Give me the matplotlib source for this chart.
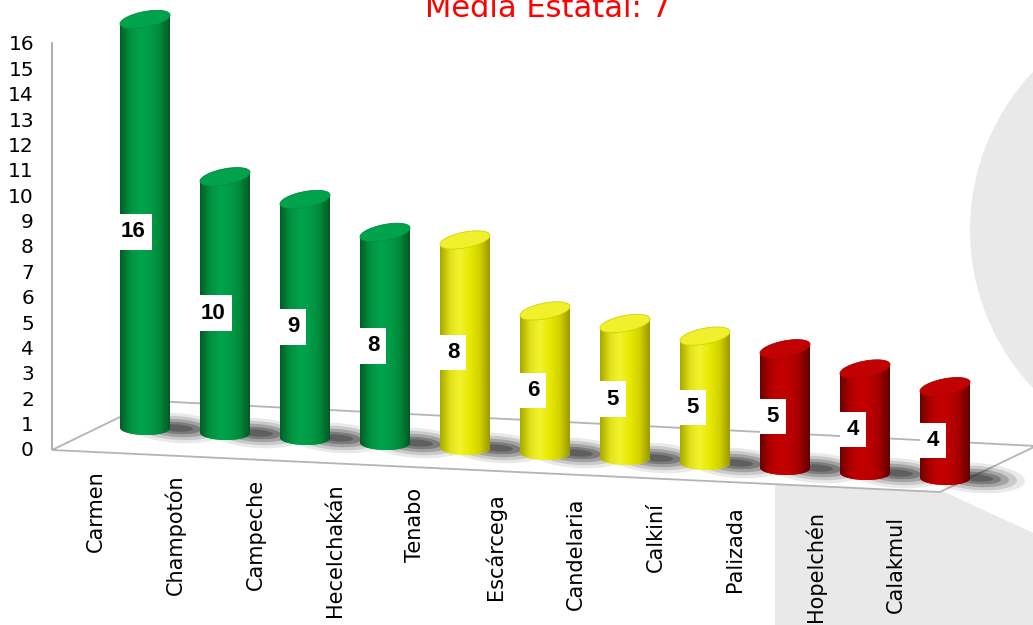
import numpy as np
import matplotlib
matplotlib.use("Agg")
import matplotlib.pyplot as plt
from matplotlib.patches import Polygon, Rectangle, Circle, Ellipse
from matplotlib.transforms import Affine2D
from matplotlib.colors import LinearSegmentedColormap

# datos
municipios = ["Carmen", "Champotón", "Campeche", "Hecelchakán", "Tenabo", "Escárcega",
              "Candelaria", "Calkiní", "Palizada", "Hopelchén", "Calakmul"]
valores = [16.1, 10.1, 9.4, 8.3, 8.2, 5.6, 5.3, 5.0, 4.7, 4.1, 3.6]
grupos = ["alto"] * 4 + ["medio"] * 4 + ["bajo"] * 3
media_estatal = 7
yticks = list(range(0, 17))

W, H = 1033, 625
PX, PY = 80.0, 25.375          # pixeles por unidad (x = municipio, y = valor)

fig = plt.figure(figsize=(W / 100, H / 100), dpi=100)

# fondo decorativo (coordenadas en pixeles)
bg = fig.add_axes([0, 0, 1, 1], zorder=0)
bg.set_xlim(0, W)
bg.set_ylim(H, 0)
bg.axis("off")
bg.add_patch(Circle((1200, 230), 230, color="#e9e9e9", lw=0))
bg.add_patch(Rectangle((775, 470), 300, 200, color="#e9e9e9", lw=0))
bg.add_patch(Polygon([(940, 490), (1040, 452), (1040, 536)], closed=True, color="white", lw=0))

# ejes principales
ax = fig.add_axes([0, 0, 1, 1], zorder=1)
ax.patch.set_alpha(0)
xmin = -145 / PX
ymin = -(H - 449) / PY
ax.set_xlim(xmin, xmin + W / PX)
ax.set_ylim(ymin, ymin + H / PY)

# perspectiva: la base baja hacia la derecha
k = 5.0 / PY
c0 = (449 - 428) / PY
persp = Affine2D().from_values(1, -k, 0, 1, 0, c0) + ax.transData

# piso
def px2d(x, y):
    return (x / PX + xmin, (449 - y) / PY)

piso = [px2d(52, 450), px2d(940, 492), px2d(1036, 446), px2d(153, 401)]
ax.add_patch(Polygon(piso, closed=True, facecolor="white", edgecolor="#b4b4b4", lw=1.3, zorder=1))

colores = {
    "alto": (["#005f28", "#00913f", "#00a34c", "#009c46", "#008a3c", "#005a25"], "#00a24b"),
    "medio": (["#a8a800", "#e2e21c", "#f2f22e", "#e8e800", "#d2d200", "#9a9a00"], "#f0f02c"),
    "bajo": (["#6a0000", "#b00000", "#c40000", "#bc0000", "#a40000", "#620000"], "#c20202"),
}

R = 25 / PX
t_bot = np.linspace(np.pi, 2 * np.pi, 40)
t_top = np.linspace(2 * np.pi, np.pi, 40)
t_all = np.linspace(0, 2 * np.pi, 80)


def anillo(cx, cy, s, b, t):
    return cx + R * np.cos(t), cy + (s * 25 * np.cos(t) + b * np.sin(t)) / PY


for i, (v, g) in enumerate(zip(valores, grupos)):
    # sombra
    for w, h, a in [(96, 30, 0.10), (80, 24, 0.16), (64, 18, 0.24), (48, 12, 0.32), (32, 7, 0.35)]:
        ax.add_patch(Ellipse((i + 32 / PX, 2 / PY), w / PX, h / PY, color="#2a2a2a",
                             alpha=a, lw=0, transform=persp, zorder=2))

    xb, yb = anillo(i, 0, 0.05, 7, t_bot)
    xt, yt = anillo(i, v, 0.24, 8, t_top)
    cuerpo = Polygon(np.column_stack([np.r_[xb, xt], np.r_[yb, yt]]), closed=True,
                     facecolor=colores[g][0][2], lw=0, transform=persp, zorder=3)
    ax.add_patch(cuerpo)
    cmap = LinearSegmentedColormap.from_list("c%d" % i, colores[g][0])
    im = ax.imshow(np.linspace(0, 1, 64)[None, :], cmap=cmap, aspect="auto",
                   extent=[i - R, i + R, ymin, ymin + H / PY], interpolation="bilinear", zorder=3)
    im.set_clip_path(cuerpo)

    xc, yc = anillo(i, v, 0.24, 8, t_all)
    ax.add_patch(Polygon(np.column_stack([xc, yc]), closed=True, facecolor=colores[g][1],
                         edgecolor=colores[g][0][4], lw=0.6, transform=persp, zorder=4))

    # etiqueta de valor
    ax.text(i - 0.15, v / 2 - 9 / PY, f"{v:.0f}", transform=persp, ha="center", va="center",
            fontsize=16, fontweight="bold", family="Liberation Sans", zorder=6,
            bbox=dict(boxstyle="square,pad=0.32", facecolor="white", edgecolor="none"))

    # nombre del municipio
    ax.text(i - 0.62, -0.83 - 0.18 * i, municipios[i], rotation=90, ha="center", va="top",
            fontsize=15, family="DejaVu Sans", color="black", zorder=6)

ax.set_xlim(xmin, xmin + W / PX)
ax.set_ylim(ymin, ymin + H / PY)

# eje y
ax.set_xticks([])
ax.set_yticks(yticks)
ax.tick_params(axis="y", length=0, pad=13, labelsize=14.5)
for lab in ax.get_yticklabels():
    lab.set_family("Liberation Sans")
for s in ["top", "right", "bottom"]:
    ax.spines[s].set_visible(False)
ax.spines["left"].set_position(("data", 52 / PX + xmin))
ax.spines["left"].set_bounds(0, 16)
ax.spines["left"].set_color("#a8a8a8")
ax.spines["left"].set_linewidth(1.3)

fig.text(548 / W, 1 - 17 / H, f"Media Estatal: {media_estatal}", color="#ff0000",
         fontsize=22, ha="center", va="baseline", family="DejaVu Sans")

fig.savefig("out.png", dpi=100)
